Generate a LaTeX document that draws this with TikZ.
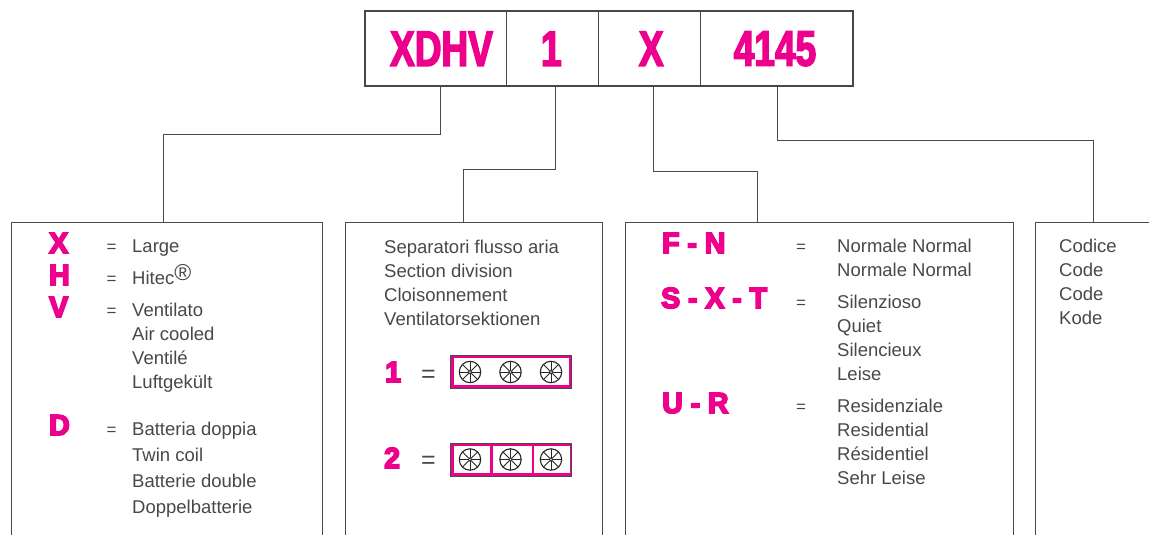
\documentclass[tikz,border=0pt]{standalone}
\usepackage{fontspec}
\usepackage{xcolor}
\setmainfont{Liberation Sans}
\newfontfamily\headfont[FakeStretch=0.74,FakeBold=3]{Liberation Sans Bold}
\newfontfamily\codefont[FakeStretch=0.98,FakeBold=6]{Liberation Sans Bold}
\definecolor{codepink}{HTML}{EC008C}
\definecolor{inkgray}{HTML}{484848}
\definecolor{wiregray}{HTML}{4A4A4A}
\tikzset{
  cell/.style={draw=wiregray,line width=1pt,minimum height=73.5pt,inner sep=0pt,anchor=west,text=codepink,font=\fontsize{50}{50}\selectfont\headfont},
  legendbox/.style={draw=wiregray,line width=1pt,minimum height=400pt,inner sep=0pt,anchor=north west},
  wire/.style={draw=wiregray,line width=1pt},
  lbl/.style={inner sep=0pt,anchor=base west,text=inkgray,font=\fontsize{18.5}{22}\selectfont},
  eqsign/.style={inner sep=0pt,anchor=base west,text=inkgray,font=\fontsize{17}{20}\selectfont},
  bigeq/.style={inner sep=0pt,anchor=base west,text=inkgray,font=\fontsize{25}{25}\selectfont},
  code/.style={inner sep=0pt,anchor=base west,text=codepink,font=\fontsize{29}{29}\selectfont\codefont},
  fanframe/.style={draw=codepink,line width=2.6pt,minimum height=30pt,inner sep=0pt,anchor=west},
  fan/.pic={
    \draw[line width=1.1pt,black!85] (0,0) circle (10.7);
    \draw[line width=0.8pt,black!85] (0,0) circle (1.8);
    \foreach \a in {0,45,...,315} \draw[line width=0.8pt,black!85] (\a:1.8) -- (\a:10.7);
  }
}
\begin{document}
\begin{tikzpicture}[x=1pt,y=1pt]
\useasboundingbox (0,0) rectangle (1149,-535);
\begin{scope}
\clip (0,0) rectangle (1149,-535);
\node[cell,minimum width=141pt,text depth=0pt] (xdhv) at (365,-48.75) {\hspace*{11pt}XDHV};
\node[cell,minimum width=91.5pt] (one) at (506,-48.75) {\hspace*{-2pt}1};
\node[cell,minimum width=102.5pt] (ex) at (597.5,-48.75) {\hspace*{4pt}X};
\node[cell,minimum width=152pt] (code) at (700,-48.75) {\hspace*{-3pt}4145};
\draw[draw=inkgray,line width=2pt] (xdhv.north west) rectangle (code.south east);
\node[legendbox,minimum width=310.5pt] (boxa) at (11,-222) {};
\node[legendbox,minimum width=256.5pt] (boxb) at (345,-222) {};
\node[legendbox,minimum width=387.5pt] (boxc) at (625,-222) {};
\node[legendbox,minimum width=200pt] (boxd) at (1035,-222) {};
\coordinate (dropa) at (440,-86);
\coordinate (turna) at (163,-134);
\coordinate (dropb) at (555,-86);
\coordinate (turnb) at (463,-169);
\coordinate (dropc) at (653,-86);
\coordinate (turnc) at (757,-171);
\coordinate (dropd) at (777,-86);
\coordinate (turnd) at (1093,-140);
\draw[wire] (dropa) |- (turna) -- (turna |- boxa.north);
\draw[wire] (dropb) |- (turnb) -- (turnb |- boxb.north);
\draw[wire] (dropc) |- (turnc) -- (turnc |- boxc.north);
\draw[wire] (dropd) |- (turnd) -- (turnd |- boxd.north);
\node[code] (cx) at (49,-253) {X};
\node[eqsign] (ex1) at (106.5,-252) {=};
\node[lbl] (t1) at (132,-252) {Large};
\node[code] (ch) at (49,-285) {H};
\node[eqsign] (ex2) at (106.5,-284) {=};
\node[lbl] (t2) at (132,-284) {Hitec\raisebox{4pt}{\fontsize{23}{23}\selectfont ®}};
\node[code] (cv) at (49,-317) {V};
\node[eqsign] (ex3) at (106.5,-316) {=};
\node[lbl] (t3) at (132,-316) {Ventilato};
\node[lbl] (t4) at (132,-340) {Air cooled};
\node[lbl] (t5) at (132,-364) {Ventilé};
\node[lbl] (t6) at (132,-388) {Luftgekült};
\node[code] (cd) at (49,-435) {D};
\node[eqsign] (ex4) at (106.5,-435) {=};
\node[lbl] (t7) at (132,-435) {Batteria doppia};
\node[lbl] (t8) at (132,-461) {Twin coil};
\node[lbl] (t9) at (132,-487) {Batterie double};
\node[lbl] (t10) at (132,-513) {Doppelbatterie};
\node[lbl] (s1) at (384,-253) {Separatori flusso aria};
\node[lbl] (s2) at (384,-277) {Section division};
\node[lbl] (s3) at (384,-301) {Cloisonnement};
\node[lbl] (s4) at (384,-325) {Ventilatorsektionen};
\node[code] (cone) at (385,-382) {1};
\node[bigeq] (eone) at (421,-382) {=};
\node[fanframe,minimum width=118pt] (fana) at (451.3,-371.5) {};
\draw[draw=wiregray,line width=0.7pt] (450,-355) rectangle (571,-388);
\pic at (470,-372) {fan};
\pic at (510.5,-372) {fan};
\pic at (551,-372) {fan};
\node[code] (ctwo) at (384,-468) {2};
\node[bigeq] (etwo) at (421,-468) {=};
\node[fanframe,minimum width=38.7pt] (fanb) at (451.3,-459.5) {};
\node[fanframe,minimum width=41.5pt] (fanc) at (490,-459.5) {};
\node[fanframe,minimum width=38.2pt] (fand) at (531.5,-459.5) {};
\draw[draw=wiregray,line width=0.7pt] (450,-443) rectangle (571,-476);
\pic at (470,-459.5) {fan};
\pic at (510.5,-459.5) {fan};
\pic at (551,-459.5) {fan};
\node[code] (cf) at (662,-253) {F - N};
\node[eqsign] (n1) at (796,-252) {=};
\node[lbl] (r1) at (837,-252) {Normale Normal};
\node[lbl] (r2) at (837,-276) {Normale Normal};
\node[code] (cs) at (661,-308) {S - X - T};
\node[eqsign] (n2) at (796,-308) {=};
\node[lbl] (r3) at (837,-308) {Silenzioso};
\node[lbl] (r4) at (837,-332) {Quiet};
\node[lbl] (r5) at (837,-356) {Silencieux};
\node[lbl] (r6) at (837,-380) {Leise};
\node[code] (cu) at (662,-413) {U - R};
\node[eqsign] (n3) at (796,-412) {=};
\node[lbl] (r7) at (837,-412) {Residenziale};
\node[lbl] (r8) at (837,-436) {Residential};
\node[lbl] (r9) at (837,-460) {Résidentiel};
\node[lbl] (r10) at (837,-484) {Sehr Leise};
\node[lbl] (k1) at (1059,-252) {Codice};
\node[lbl] (k2) at (1059,-276) {Code};
\node[lbl] (k3) at (1059,-300) {Code};
\node[lbl] (k4) at (1059,-324) {Kode};
\end{scope}
\end{tikzpicture}
\end{document}
